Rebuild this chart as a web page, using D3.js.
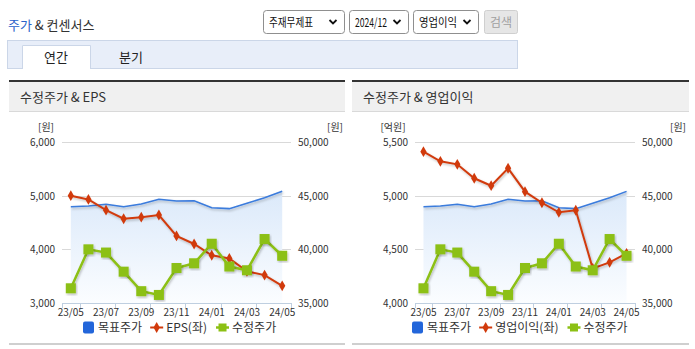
<!DOCTYPE html>
<html><head><meta charset="utf-8">
<script src="https://cdn.jsdelivr.net/npm/d3@7"></script>
<style>
html,body{margin:0;padding:0;background:#fff;}
svg{display:block;font-family:"Noto Sans CJK KR","Noto Sans",sans-serif;}
</style></head>
<body>
<script>
// ---- data ----
const categories = ["23/05","23/06","23/07","23/08","23/09","23/10","23/11","23/12","24/01","24/02","24/03","24/04","24/05"];
const targetPrice = [43970,44040,44200,43970,44220,44660,44500,44530,43880,43790,44300,44800,45400];
const adjPrice    = [36370,40000,39700,37920,36100,35750,38260,38700,40520,38400,38050,40960,39400];
const eps         = [5000,4930,4730,4570,4600,4640,4250,4100,3890,3830,3590,3520,3320];
const opProfit    = [5410,5320,5292,5162,5093,5255,5037,4934,4845,4864,4323,4379,4463];
const epsTicks    = [3000,4000,5000,6000];
const opTicks     = [4000,4500,5000,5500];
const priceTicks  = [35000,40000,45000,50000];
const xLabels     = ["23/05","23/07","23/09","23/11","24/01","24/03","24/05"];

const W = 695, H = 349;
const svg = d3.select("body").append("svg").attr("width", W).attr("height", H);
const defs = svg.append("defs");
const grad = defs.append("linearGradient").attr("id","areaGrad").attr("x1",0).attr("y1",0).attr("x2",0).attr("y2",1);
grad.append("stop").attr("offset","0%").attr("stop-color","#dbe9fa");
grad.append("stop").attr("offset","100%").attr("stop-color","#fbfdff");
const f = defs.append("filter").attr("id","shadow").attr("x","-10%").attr("y","-10%").attr("width","130%").attr("height","130%");
f.append("feDropShadow").attr("dx",1).attr("dy",1.5).attr("stdDeviation",0.8).attr("flood-color","#000").attr("flood-opacity",0.25);

// ---- top header ----
const t = svg.append("text").attr("x",8).attr("y",30).attr("font-size",13);
t.append("tspan").attr("fill","#2a62c9").text("주가");
t.append("tspan").attr("fill","#333").text(" & 컨센서스");

function selectBox(x0,x1,label,tw){
  svg.append("rect").attr("x",x0+0.5).attr("y",10.5).attr("width",x1-x0).attr("height",23).attr("rx",3)
    .attr("fill","#fff").attr("stroke","#8f8f8f");
  svg.append("text").attr("x",x0+6).attr("y",26.5).attr("font-size",12).attr("fill","#111")
    .attr("textLength",tw).attr("lengthAdjust","spacingAndGlyphs").text(label);
  const cx = x1-11, cy = 22;
  svg.append("path").attr("d",`M${cx-3.5},${cy-2} L${cx},${cy+1.5} L${cx+3.5},${cy-2}`)
    .attr("fill","none").attr("stroke","#111").attr("stroke-width",1.8);
}
selectBox(263,344,"주재무제표",44);
selectBox(349,408,"2024/12",32);
selectBox(413,478,"영업이익",38);
svg.append("rect").attr("x",484.5).attr("y",10.5).attr("width",33).attr("height",23).attr("rx",2)
  .attr("fill","#e6e6e6").attr("stroke","#cfcfcf");
svg.append("text").attr("x",501).attr("y",26.5).attr("text-anchor","middle").attr("font-size",12).attr("fill","#a0a0a0").text("검색");

// tabs
svg.append("rect").attr("x",7.5).attr("y",40.5).attr("width",510).attr("height",28).attr("fill","#e8eef9").attr("stroke","#cbd6e8");
svg.append("rect").attr("x",22).attr("y",45).attr("width",68).attr("height",24).attr("fill","#fff");
svg.append("path").attr("d","M22.5,69 V45.5 H90.5 V69").attr("fill","none").attr("stroke","#cbd6e8");
svg.append("text").attr("x",56).attr("y",62).attr("text-anchor","middle").attr("font-size",13).attr("fill","#222").text("연간");
svg.append("text").attr("x",131).attr("y",62).attr("text-anchor","middle").attr("font-size",13).attr("fill","#222").text("분기");

// ---- chart panels ----
function panel(opt){
  const g = svg.append("g");
  // header
  g.append("rect").attr("x",opt.px0).attr("y",80).attr("width",opt.px1-opt.px0).attr("height",2).attr("fill","#333");
  g.append("rect").attr("x",opt.px0).attr("y",82).attr("width",opt.px1-opt.px0).attr("height",30).attr("fill","#f0f0f0");
  g.append("rect").attr("x",opt.px0).attr("y",111).attr("width",opt.px1-opt.px0).attr("height",1).attr("fill","#d9d9d9");
  g.append("text").attr("x",opt.px0+11).attr("y",102).attr("font-size",13).attr("fill","#333").text(opt.title);
  g.append("rect").attr("x",opt.px0).attr("y",343).attr("width",opt.px1-opt.px0).attr("height",2).attr("fill","#cfcfcf");

  const x = d3.scaleBand().domain(categories).range([opt.x0,opt.x1]).padding(0);
  const cx = d => x(d) + x.bandwidth()/2;
  const yL = d3.scaleLinear().domain(d3.extent(opt.leftTicks)).range([303,142]);
  const yR = d3.scaleLinear().domain(d3.extent(priceTicks)).range([303,142]);

  // gridlines
  g.selectAll(".grid").data(opt.leftTicks.slice(1)).join("line")
    .attr("x1",opt.x0).attr("x2",opt.x1).attr("y1",d=>Math.round(yL(d))+0.5).attr("y2",d=>Math.round(yL(d))+0.5)
    .attr("stroke","#d9d9d9");

  // area + target line
  const area = d3.area().x((d,i)=>cx(categories[i])).y0(yR(35000)).y1(d=>yR(d));
  g.append("path").datum(targetPrice).attr("d",area).attr("fill","url(#areaGrad)");
  const lineR = d3.line().x((d,i)=>cx(categories[i])).y(d=>yR(d));
  const lineL = d3.line().x((d,i)=>cx(categories[i])).y(d=>yL(d));
  g.append("path").datum(targetPrice).attr("d",lineR).attr("fill","none").attr("stroke","#3b7bdc").attr("stroke-width",1.6).attr("filter","url(#shadow)");

  // x axis
  const axisY = 303;
  g.append("line").attr("x1",opt.x0).attr("x2",opt.x1).attr("y1",axisY+0.5).attr("y2",axisY+0.5).attr("stroke","#bfcfe0");
  const tickXs = [opt.x0].concat(categories.filter((c,i)=>i%2===0).map(c=>x(c)+x.bandwidth()));
  g.selectAll(".xt").data(tickXs).join("line")
    .attr("x1",d=>Math.round(d)+0.5).attr("x2",d=>Math.round(d)+0.5).attr("y1",axisY).attr("y2",axisY+5).attr("stroke","#bfcfe0");
  g.selectAll(".xl").data(xLabels).join("text")
    .attr("x",d=>cx(d)).attr("y",316).attr("text-anchor","middle").attr("font-size",10).attr("fill","#333").text(d=>d);

  // y labels
  g.selectAll(".yl").data(opt.leftTicks).join("text")
    .attr("x",opt.x0-7).attr("y",d=>yL(d)+4).attr("text-anchor","end").attr("font-size",10).attr("fill","#333").text(d=>d3.format(",")(d));
  g.selectAll(".yr").data(priceTicks).join("text")
    .attr("x",opt.x1+7).attr("y",d=>yR(d)+4).attr("text-anchor","start").attr("font-size",10).attr("fill","#333").text(d=>d3.format(",")(d));
  g.append("text").attr("x",opt.lUnitX).attr("y",131).attr("text-anchor","middle").attr("font-size",10).attr("fill","#333").text(opt.leftUnit);
  g.append("text").attr("x",opt.rUnitX).attr("y",131).attr("text-anchor","middle").attr("font-size",10).attr("fill","#333").text("[원]");

  // red series (left axis)
  g.append("path").datum(opt.leftData).attr("d",lineL).attr("fill","none").attr("stroke","#d13a0c").attr("stroke-width",2).attr("filter","url(#shadow)");
  g.selectAll(".dm").data(opt.leftData).join("path")
    .attr("transform",(d,i)=>`translate(${cx(categories[i])},${yL(d)})`)
    .attr("d",d3.symbol(d3.symbolDiamond,34)()).attr("fill","#d13a0c");

  // green series (right axis)
  g.append("path").datum(adjPrice).attr("d",lineR).attr("fill","none").attr("stroke","#8cc014").attr("stroke-width",2.5).attr("filter","url(#shadow)");
  g.selectAll(".sq").data(adjPrice).join("rect")
    .attr("x",(d,i)=>cx(categories[i])-5).attr("y",d=>yR(d)-5).attr("width",10).attr("height",10)
    .attr("fill","#8cc014").attr("filter","url(#shadow)");

  // legend
  const lg = g.append("g");
  let lx = opt.legendX;
  const ly = 327.5;
  lg.append("rect").attr("x",lx).attr("y",ly-6).attr("width",11).attr("height",12).attr("rx",2).attr("fill","#2366da");
  let tx = lg.append("text").attr("x",lx+15).attr("y",ly+4.5).attr("font-size",12).attr("fill","#333").text("목표주가");
  lx = lx + 15 + tx.node().getComputedTextLength() + 8;
  lg.append("line").attr("x1",lx).attr("x2",lx+13).attr("y1",ly).attr("y2",ly).attr("stroke","#d13a0c").attr("stroke-width",2);
  lg.append("path").attr("transform",`translate(${lx+6.5},${ly})`).attr("d",d3.symbol(d3.symbolDiamond,34)()).attr("fill","#d13a0c");
  tx = lg.append("text").attr("x",lx+16).attr("y",ly+4.5).attr("font-size",12).attr("fill","#333").text(opt.leftName);
  lx = lx + 16 + tx.node().getComputedTextLength() + 9;
  lg.append("line").attr("x1",lx).attr("x2",lx+13).attr("y1",ly).attr("y2",ly).attr("stroke","#8cc014").attr("stroke-width",2.5);
  lg.append("rect").attr("x",lx+2.5).attr("y",ly-4).attr("width",8).attr("height",8).attr("fill","#8cc014");
  lg.append("text").attr("x",lx+16).attr("y",ly+4.5).attr("font-size",12).attr("fill","#333").text("수정주가");
}

panel({px0:9, px1:345, x0:62, x1:291, title:"수정주가 & EPS", leftTicks:epsTicks, leftData:eps,
  leftUnit:"[원]", lUnitX:46, rUnitX:335, leftName:"EPS(좌)", legendX:83});
panel({px0:352, px1:689, x0:415, x1:635, title:"수정주가 & 영업이익", leftTicks:opTicks, leftData:opProfit,
  leftUnit:"[억원]", lUnitX:393, rUnitX:678, leftName:"영업이익(좌)", legendX:412});
</script>
</body></html>
